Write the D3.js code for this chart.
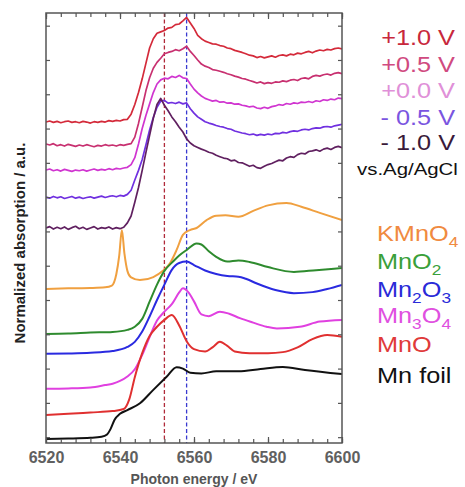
<!DOCTYPE html>
<html><head><meta charset="utf-8">
<script src="https://cdn.jsdelivr.net/npm/d3@7"></script>
<style>body{margin:0;background:#fff;} svg{display:block;font-family:"Liberation Sans",Arial,sans-serif;}</style>
</head><body>
<svg id="c" width="465" height="487"></svg>
<script>
// ---------- data ----------
const energyGrid = d3.range(6520, 6601, 1); // eV, in-situ spectra sampling
const xTickLabels = [6520, 6540, 6560, 6580, 6600];
const refLines = [6552, 6558];

const insituLabels = ["+1.0 V", "+0.5 V", "+0.0 V", "- 0.5 V", "- 1.0 V"];
const insituColors = ["#d42a3a", "#c83070", "#d035d0", "#7030e0", "#602060"];
const insituLegendColors = ["#c8283c", "#d04a80", "#e090d8", "#7a55e0", "#3a1a3a"];

const pos10 = [9.19,9.22,9.18,9.21,9.17,9.20,9.22,9.18,9.20,9.17,
 9.21,9.19,9.16,9.20,9.18,9.21,9.19,9.23,9.21,9.24,
 9.22,9.26,9.27,9.42,9.70,10.05,10.45,10.90,11.35,11.62,
 11.78,11.82,11.86,11.93,11.95,12.03,12.05,12.14,12.24,12.08,
 11.92,11.72,11.62,11.55,11.51,11.47,11.46,11.42,11.40,11.35,
 11.33,11.28,11.25,11.22,11.18,11.14,11.12,11.07,11.10,11.06,
 11.09,11.12,11.08,11.13,11.15,11.12,11.17,11.15,11.20,11.18,
 11.22,11.25,11.21,11.26,11.29,11.27,11.31,11.29,11.33,11.35,
 11.32];
const pos05 = [8.55,8.52,8.56,8.50,8.53,8.49,8.54,8.51,8.48,8.52,
 8.49,8.53,8.50,8.47,8.51,8.49,8.53,8.50,8.52,8.49,
 8.53,8.51,8.54,8.56,8.75,9.15,9.62,10.10,10.48,10.76,
 10.93,11.05,11.18,11.22,11.25,11.30,11.27,11.33,11.40,11.25,
 11.13,11.00,10.88,10.82,10.78,10.72,10.70,10.67,10.64,10.60,
 10.57,10.53,10.50,10.46,10.44,10.40,10.37,10.33,10.36,10.31,
 10.34,10.32,10.36,10.35,10.39,10.37,10.41,10.43,10.40,10.46,
 10.48,10.45,10.52,10.55,10.53,10.57,10.59,10.56,10.61,10.63,
 10.60];
const pos00 = [7.79,7.82,7.77,7.80,7.76,7.81,7.78,7.75,7.79,7.77,
 7.80,7.76,7.79,7.82,7.78,7.81,7.79,7.83,7.80,7.84,
 7.82,7.85,7.87,7.95,8.15,8.55,9.00,9.38,9.72,10.05,
 10.30,10.42,10.47,10.45,10.52,10.49,10.55,10.48,10.46,10.30,
 10.15,10.04,9.95,9.88,9.84,9.80,9.82,9.77,9.78,9.74,
 9.75,9.71,9.72,9.68,9.66,9.63,9.65,9.60,9.58,9.62,
 9.59,9.64,9.66,9.70,9.68,9.73,9.71,9.75,9.73,9.77,
 9.76,9.79,9.76,9.81,9.79,9.84,9.82,9.86,9.84,9.89,
 9.87];
const neg05 = [7.00,6.97,7.02,6.98,7.01,6.96,6.99,7.02,6.97,7.00,
 6.96,6.99,7.01,6.97,7.00,7.03,6.99,7.02,7.04,7.01,
 7.05,7.03,7.08,7.20,7.50,7.78,8.10,8.52,8.96,9.32,
 9.62,9.80,9.82,9.74,9.76,9.73,9.77,9.72,9.75,9.58,
 9.45,9.34,9.27,9.20,9.16,9.13,9.09,9.06,9.04,9.00,
 8.98,8.93,8.90,8.87,8.85,8.82,8.84,8.80,8.83,8.81,
 8.84,8.82,8.86,8.85,8.89,8.87,8.91,8.93,8.92,8.96,
 8.98,8.96,9.00,9.02,9.01,9.05,9.06,9.04,9.08,9.10,
 9.12];
const neg10 = [6.10,6.14,6.07,6.12,6.08,6.13,6.06,6.11,6.15,6.08,
 6.12,6.06,6.10,6.14,6.07,6.11,6.09,6.13,6.07,6.11,
 6.08,6.12,6.25,6.45,6.85,7.28,7.78,8.30,8.80,9.30,
 9.70,9.88,9.68,9.52,9.34,9.20,9.04,8.90,8.70,8.58,
 8.50,8.45,8.40,8.36,8.31,8.28,8.22,8.18,8.14,8.12,
 8.06,8.08,8.01,8.00,7.95,7.90,7.93,7.86,7.84,7.90,
 7.95,7.98,8.03,8.08,8.06,8.14,8.18,8.16,8.24,8.28,
 8.26,8.33,8.35,8.38,8.34,8.40,8.43,8.39,8.45,8.48,
 8.44];

// reference compounds: [energy eV, normalized absorption + offset]
const refNames = ["KMnO4", "MnO2", "Mn2O3", "Mn3O4", "MnO", "Mn foil"];
const refColors = ["#f0a040", "#2e8b2e", "#2a2ae0", "#e040e0", "#e03030", "#111111"];
const refLegendColors = ["#f08a40", "#3aa03a", "#2a2ad8", "#e050e0", "#e03a3a", "#111111"];
const KMnO4 = [[6520,4.32],[6526,4.34],[6532,4.35],[6536,4.37],[6537.8,4.42],[6539,4.75],[6539.8,5.3],[6540.5,6.04],[6541.2,5.35],[6542,4.85],[6543,4.66],[6545.4,4.58],[6549,4.67],[6551.6,4.85],[6553.5,5.07],[6555.3,5.46],[6557,5.9],[6558.9,6.04],[6560.7,6.10],[6563.4,6.33],[6566,6.46],[6568.5,6.47],[6572,6.43],[6576,6.60],[6580,6.76],[6585,6.83],[6589,6.72],[6594,6.54],[6600,6.33]];
const MnO2 = [[6520,3.01],[6526,3.02],[6532,3.05],[6538,3.07],[6542,3.13],[6544,3.22],[6546,3.45],[6548,3.95],[6550,4.45],[6552,4.85],[6554.3,5.12],[6556,5.30],[6558,5.46],[6560.7,5.65],[6562,5.62],[6564,5.42],[6566,5.26],[6569,5.12],[6572,5.15],[6575,5.11],[6580,4.96],[6587,4.82],[6593,4.87],[6600,4.93]];
const Mn2O3 = [[6520,2.43],[6526,2.44],[6532,2.46],[6538,2.51],[6542,2.63],[6544,2.78],[6546,3.08],[6548,3.52],[6550,4.0],[6552,4.45],[6554,4.88],[6556,5.08],[6558,5.12],[6560,5.02],[6563,4.86],[6566,4.76],[6569,4.70],[6572,4.68],[6574,4.62],[6577,4.48],[6582,4.29],[6587,4.20],[6592,4.23],[6596,4.32],[6600,4.44]];
const Mn3O4 = [[6520,1.41],[6526,1.42],[6532,1.45],[6536,1.52],[6538,1.56],[6540,1.64],[6542,1.77],[6544,1.98],[6546,2.40],[6548,2.92],[6550,3.40],[6552,3.66],[6554,3.88],[6556,4.22],[6557,4.34],[6558.5,4.22],[6560,3.96],[6562,3.58],[6564,3.53],[6567,3.66],[6569.5,3.60],[6572.4,3.47],[6576,3.34],[6579.6,3.22],[6582.4,3.17],[6588.6,3.22],[6594,3.37],[6600,3.42]];
const MnO = [[6520,0.65],[6526,0.68],[6532,0.72],[6538,0.76],[6541,0.82],[6542.5,1.10],[6544,1.75],[6546,2.45],[6548,2.95],[6550,3.22],[6552,3.42],[6554,3.56],[6556,3.26],[6558,2.80],[6560,2.57],[6563,2.50],[6565,2.62],[6567,2.78],[6569,2.66],[6571,2.50],[6575,2.45],[6580,2.45],[6584,2.48],[6588,2.62],[6592,2.86],[6596,2.98],[6600,2.93]];
const MnFoil = [[6520,-0.05],[6526,-0.04],[6532,-0.02],[6535,0.01],[6536.5,0.08],[6537.5,0.25],[6538.5,0.50],[6540,0.68],[6542,0.79],[6545.4,0.99],[6549,1.38],[6552.6,1.76],[6555.3,2.04],[6557,2.00],[6559,1.88],[6562,1.86],[6566,1.92],[6572,1.92],[6578,1.99],[6584,2.05],[6590,1.96],[6600,1.84]];

// ---------- chart ----------
const svg = d3.select("#c");
const L = 46, R = 342, T = 13, B = 443;
const x = d3.scaleLinear().domain([6520, 6600]).range([L, R]);
const y = d3.scaleLinear().domain([-0.17, 12.37]).range([B, T]);

svg.append("defs").append("clipPath").attr("id", "clip")
  .append("rect").attr("x", L).attr("y", T).attr("width", R - L).attr("height", B - T);

const plot = svg.append("g").attr("clip-path", "url(#clip)");

// dashed reference lines
const dashColors = ["#b02a3a", "#3a3ad0"];
refLines.forEach((e, i) => {
  plot.append("line").attr("x1", x(e)).attr("x2", x(e)).attr("y1", T).attr("y2", B)
    .attr("stroke", dashColors[i]).attr("stroke-width", 1.3).attr("stroke-dasharray", "4,2.5");
});

const line = d3.line().x(d => x(d[0])).y(d => y(d[1]));
const smooth = d3.line().x(d => x(d[0])).y(d => y(d[1])).curve(d3.curveMonotoneX);

// reference spectra
[KMnO4, MnO2, Mn2O3, Mn3O4, MnO, MnFoil].forEach((s, i) => {
  plot.append("path").datum(s).attr("d", smooth).attr("fill", "none")
    .attr("stroke", refColors[i]).attr("stroke-width", 2).attr("stroke-linejoin", "round");
});

// in-situ spectra
[pos10, pos05, pos00, neg05, neg10].forEach((vals, i) => {
  const pts = energyGrid.map((e, k) => [e, vals[k]]);
  plot.append("path").datum(pts).attr("d", line).attr("fill", "none")
    .attr("stroke", insituColors[i]).attr("stroke-width", 1.7).attr("stroke-linejoin", "round");
});

// frame
svg.append("rect").attr("x", L).attr("y", T).attr("width", R - L).attr("height", B - T)
  .attr("fill", "none").attr("stroke", "#555").attr("stroke-width", 1.5);

// ticks
const minor = d3.range(6520, 6601, 4);
const axisStyle = g => { g.select(".domain").remove(); g.selectAll("line").attr("stroke", "#555").attr("stroke-width", 1.2); };
svg.append("g").attr("transform", `translate(0,${B})`)
  .call(d3.axisBottom(x).tickValues(minor).tickSize(-4).tickFormat(""))
  .call(axisStyle);
svg.append("g").attr("transform", `translate(0,${T})`)
  .call(d3.axisTop(x).tickValues(minor).tickSize(-4).tickFormat(""))
  .call(axisStyle);
const bx = svg.append("g").attr("transform", `translate(0,${B})`)
  .call(d3.axisBottom(x).tickValues(xTickLabels).tickSize(-6).tickPadding(9).tickFormat(d3.format("d")))
  .call(axisStyle);
bx.selectAll("text").attr("font-size", 16).attr("font-weight", "bold").attr("fill", "#606060")
  .attr("font-family", "Liberation Sans, Arial, sans-serif");
svg.append("g").attr("transform", `translate(0,${T})`)
  .call(d3.axisTop(x).tickValues(xTickLabels).tickSize(-6).tickFormat(""))
  .call(axisStyle);
const yt = d3.range(0, 13);
svg.append("g").attr("transform", `translate(${L},0)`)
  .call(d3.axisLeft(y).tickValues(yt).tickSize(-4).tickFormat(""))
  .call(axisStyle);
svg.append("g").attr("transform", `translate(${R},0)`)
  .call(d3.axisRight(y).tickValues(yt).tickSize(-4).tickFormat(""))
  .call(axisStyle);

// axis titles
svg.append("text").attr("x", (L + R) / 2).attr("y", 484).attr("text-anchor", "middle")
  .attr("font-size", 14).attr("font-weight", "bold").attr("fill", "#555").text("Photon energy / eV");
svg.append("text").attr("transform", "translate(25,243) rotate(-90)").attr("text-anchor", "middle")
  .attr("font-size", 15).attr("font-weight", "bold").attr("fill", "#222").text("Normalized absorption / a.u.");

// in-situ legend
const sx = 1.15;
const insituBase = [45, 71.7, 98.3, 125, 150];
insituLabels.forEach((t, i) => {
  svg.append("text").attr("transform", `translate(455,${insituBase[i]}) scale(${sx},1)`)
    .attr("text-anchor", "end").attr("font-size", 22).attr("fill", insituLegendColors[i]).text(t);
});
svg.append("text").attr("transform", `translate(357,175) scale(1.2,1)`)
  .attr("font-size", 17).attr("fill", "#111").text("vs.Ag/AgCl");

// reference legend
const refBase = [241, 269.3, 296.7, 323.3, 351.7, 383.3];
const refParts = [
  [["KMnO", false], ["4", true]],
  [["MnO", false], ["2", true]],
  [["Mn", false], ["2", true], ["O", false], ["3", true]],
  [["Mn", false], ["3", true], ["O", false], ["4", true]],
  [["MnO", false]],
  [["Mn foil", false]]
];
refParts.forEach((parts, i) => {
  const t = svg.append("text").attr("transform", `translate(377,${refBase[i]}) scale(${sx},1)`)
    .attr("font-size", 22).attr("fill", refLegendColors[i]);
  parts.forEach(([s, sub]) => {
    const sp = t.append("tspan").text(s);
    if (sub) sp.attr("font-size", 15).attr("dy", 6);
    else sp.attr("dy", sp.node().previousSibling ? -6 : 0);
  });
});
</script>
</body></html>
